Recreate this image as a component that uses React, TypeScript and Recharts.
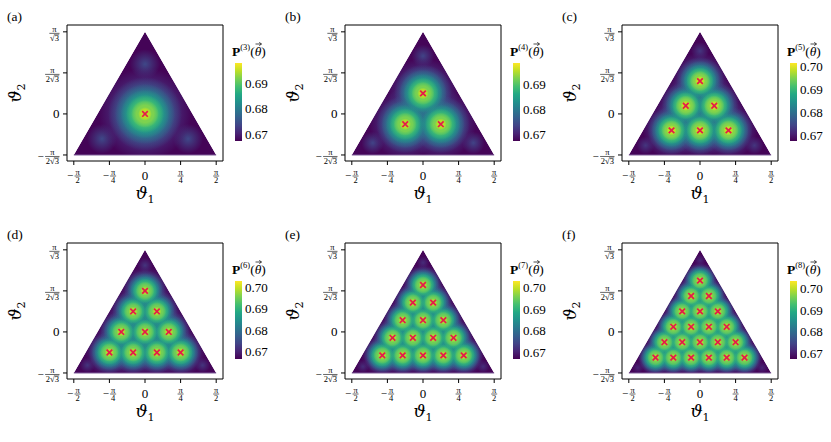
import React from "react";
import {
  ComposedChart,
  Area,
  Scatter,
  XAxis,
  YAxis,
  ReferenceArea,
  ReferenceLine,
} from "recharts";

// axis ticks (radians) and their labels
const xTicks = [-1.5708, -0.7854, 0, 0.7854, 1.5708];
const xTickLabels = ["−π/2", "−π/4", "0", "π/4", "π/2"];
const yTicks = [-0.9069, 0, 0.9069, 1.8138];
const yTickLabels = ["−π/2√3", "0", "π/2√3", "π/√3"];

// triangle of allowed angles
const triX = [-1.5708, 0, 1.5708];
const triY = [-0.9069, 1.8138, -0.9069];

// maxima (red crosses), one list per n
const peaks3 = [[0, 0]];
const peaks4 = [[-0.393, -0.227], [0.393, -0.227], [0, 0.454]];
const peaks5 = [
  [-0.628, -0.363], [0, -0.363], [0.628, -0.363],
  [-0.314, 0.181], [0.314, 0.181],
  [0, 0.726],
];
const peaks6 = [
  [-0.785, -0.454], [-0.262, -0.454], [0.262, -0.454], [0.785, -0.454],
  [-0.524, 0], [0, 0], [0.524, 0],
  [-0.262, 0.453], [0.262, 0.453],
  [0, 0.907],
];
const peaks7 = [
  [-0.898, -0.518], [-0.449, -0.518], [0, -0.518], [0.449, -0.518], [0.898, -0.518],
  [-0.673, -0.13], [-0.224, -0.13], [0.224, -0.13], [0.673, -0.13],
  [-0.449, 0.259], [0, 0.259], [0.449, 0.259],
  [-0.224, 0.648], [0.224, 0.648],
  [0, 1.037],
];
const peaks8 = [
  [-0.982, -0.567], [-0.589, -0.567], [-0.196, -0.567], [0.196, -0.567], [0.589, -0.567], [0.982, -0.567],
  [-0.785, -0.227], [-0.393, -0.227], [0, -0.227], [0.393, -0.227], [0.785, -0.227],
  [-0.589, 0.113], [-0.196, 0.113], [0.196, 0.113], [0.589, 0.113],
  [-0.393, 0.454], [0, 0.454], [0.393, 0.454],
  [-0.196, 0.794], [0.196, 0.794],
  [0, 1.134],
];

// faint secondary bumps near the corners
const bumps3 = [[0, 1.1], [-0.95, -0.55], [0.95, -0.55]];
const bumps4 = [[0, 1.28], [-1.11, -0.64], [1.11, -0.64]];
const bumps5 = [[0, 1.39], [-1.2, -0.695], [1.2, -0.695]];
const bumps6 = [[0, 1.47], [-1.27, -0.735], [1.27, -0.735]];
const bumps7 = [[0, 1.53], [-1.325, -0.765], [1.325, -0.765]];
const bumps8 = [[0, 1.58], [-1.37, -0.79], [1.37, -0.79]];

const nValues = [3, 4, 5, 6, 7, 8];
const panelLetters = ["a", "b", "c", "d", "e", "f"];
const peakValues = [0.6958, 0.6962, 0.6995, 0.6998, 0.6998, 0.7];
const baseValues = [0.6676, 0.6676, 0.6678, 0.6668, 0.6671, 0.6675];
const bumpValues = [0.6738, 0.6735, 0.6728, 0.672, 0.6715, 0.671];
const cbMin = [0.6673, 0.6672, 0.6675, 0.6664, 0.6668, 0.6672];
const cbMax = [0.6978, 0.6985, 0.7014, 0.7031, 0.7032, 0.7035];
const cbTicksShort = [0.67, 0.68, 0.69];
const cbTicksLong = [0.67, 0.68, 0.69, 0.7];

const allPeaks = [peaks3, peaks4, peaks5, peaks6, peaks7, peaks8];
const allBumps = [bumps3, bumps4, bumps5, bumps6, bumps7, bumps8];

// layout / style
const PANEL_X = [67, 345, 622];
const PANEL_Y = [25, 243];
const X_DOMAIN = [-1.721, 1.721];
const Y_DOMAIN = [-1.04, 1.965];
const PX_PER_RAD = 45.3;
const SERIF = "'Liberation Serif', 'DejaVu Serif', serif";
const LEVEL_H = [0.12, 0.28, 0.44, 0.6, 0.74, 0.86, 0.96];
const RAD_A = [0.8, 0.64, 0.52, 0.42, 0.33, 0.24, 0.12];
const RAD_F = [0.86, 0.78, 0.68, 0.58, 0.49, 0.38, 0.2];
const MARK = "#e6194b";

const VIRIDIS = [
  "#440154", "#482475", "#414487", "#355f8d", "#2a788e", "#21918c",
  "#22a884", "#44bf70", "#7ad151", "#bddf26", "#fde725",
];

function hexToRgb(h: string) {
  return [1, 3, 5].map((i) => parseInt(h.slice(i, i + 2), 16));
}

function viridis(t: number) {
  const c = Math.max(0, Math.min(1, t)) * 10;
  const i = Math.min(9, Math.floor(c));
  const f = c - i;
  const a = hexToRgb(VIRIDIS[i]);
  const b = hexToRgb(VIRIDIS[i + 1]);
  const m = a.map((v, k) => Math.round(v + (b[k] - v) * f));
  return `rgb(${m[0]},${m[1]},${m[2]})`;
}

// triangle + white masks outside it (glows are cut at the edges)
const rowXs = [X_DOMAIN[0], ...triX, X_DOMAIN[1]];
const rowEdge = [Y_DOMAIN[0], ...triY, Y_DOMAIN[0]];
const shapeRows = rowXs.map((x, i) => ({
  x,
  tri: i > 0 && i < rowXs.length - 1 ? triY[i - 1] : null,
  up: [rowEdge[i], Y_DOMAIN[1]],
  down: [Y_DOMAIN[0], triY[0]],
}));

function Frac({ x, y, label, anchor }: any) {
  const fs = 8.5;
  if (!label.includes("/")) {
    return (
      <text x={x} y={y + 4.3} textAnchor={anchor} fontFamily={SERIF} fontSize={13} fill="#000">
        {label}
      </text>
    );
  }
  const neg = label.startsWith("−");
  const body = neg ? label.slice(1) : label;
  const [num, den] = body.split("/");
  const hasRoot = den.includes("√");
  const [pre, rad] = hasRoot ? den.split("√") : [den, ""];
  const denW = pre.length * 4.25 + (hasRoot ? 4.7 + rad.length * 4.25 : 0);
  const barW = Math.max(4.8, denW) + 1.2;
  const minusW = neg ? 7.5 : 0;
  const total = minusW + barW;
  const left = anchor === "end" ? x - total : x - total / 2;
  const fl = left + minusW;
  const cx = fl + barW / 2;
  const denLeft = cx - denW / 2;
  const radLeft = denLeft + pre.length * 4.25 + 4.7;
  return (
    <g fontFamily={SERIF} fill="#000">
      {neg && (
        <text x={left} y={y + 3.2} fontSize={11}>
          −
        </text>
      )}
      <text x={cx} y={y - 1.4} fontSize={fs} textAnchor="middle">
        {num}
      </text>
      <line x1={fl} x2={fl + barW} y1={y} y2={y} stroke="#000" strokeWidth={0.6} />
      <text x={denLeft} y={y + 7.4} fontSize={fs}>
        {pre + (hasRoot ? "√" : "")}
      </text>
      {hasRoot && (
        <>
          <text x={radLeft} y={y + 7.4} fontSize={fs}>
            {rad}
          </text>
          <line
            x1={radLeft - 0.3}
            x2={radLeft + rad.length * 4.25 + 0.3}
            y1={y + 1.4}
            y2={y + 1.4}
            stroke="#000"
            strokeWidth={0.5}
          />
        </>
      )}
    </g>
  );
}

function XTick(props: any) {
  const { x, y, payload } = props;
  const label = xTickLabels[xTicks.indexOf(payload.value)] ?? "";
  return <Frac x={x} y={y + 9} label={label} anchor="middle" />;
}

function YTick(props: any) {
  const { x, y, payload } = props;
  const label = yTickLabels[yTicks.indexOf(payload.value)] ?? "";
  return <Frac x={x - 1.5} y={label === "0" ? y : y + 1.5} label={label} anchor="end" />;
}

const axisLabelStyle: React.CSSProperties = {
  position: "absolute",
  fontFamily: "'DejaVu Serif', serif",
  fontSize: 17,
  fontStyle: "italic",
  whiteSpace: "nowrap",
  lineHeight: "16px",
};

function Panel({ idx }: { idx: number }) {
  const n = nValues[idx];
  const fx = PANEL_X[idx % 3];
  const fy = PANEL_Y[Math.floor(idx / 3)];
  const lo = cbMin[idx];
  const hi = cbMax[idx];
  const norm = (v: number) => (v - lo) / (hi - lo);
  const tPeak = norm(peakValues[idx]);
  const tBase = norm(baseValues[idx]);
  const spacing = (Math.PI / n) * PX_PER_RAD;
  const w = (n - 3) / 5;
  const peakRows = allPeaks[idx].map(([x, y]) => ({ x, y }));
  const bumpRows = allBumps[idx].map(([x, y]) => ({ x, y }));
  const bumpR = Math.max(6, Math.min(15, 0.32 * spacing));
  const ticks = n <= 4 ? cbTicksShort : cbTicksLong;

  return (
    <>
      <div
        style={{ position: "absolute", left: fx - 60, top: fy - 17, fontFamily: SERIF, fontSize: 13.5, lineHeight: "17px" }}
      >
        ({panelLetters[idx]})
      </div>
      <div
        style={{
          ...axisLabelStyle,
          left: fx - 49,
          top: fy + 68,
          transform: "translate(-50%, -50%) rotate(-90deg)",
        }}
      >
        ϑ<span style={{ fontSize: 11, fontStyle: "normal", verticalAlign: -4 }}>2</span>
      </div>
      <div
        style={{
          ...axisLabelStyle,
          left: fx + 78,
          top: fy + 171,
          transform: "translate(-50%, -50%)",
        }}
      >
        ϑ<span style={{ fontSize: 11, fontStyle: "normal", verticalAlign: -4 }}>1</span>
      </div>
      <div style={{ position: "absolute", left: fx - 60, top: fy - 10 }}>
        <ComposedChart width={226} height={176} data={shapeRows} margin={{ top: 10, right: 10, bottom: 0, left: 0 }}>
          <defs>
            {LEVEL_H.map((h, L) => {
              const c = viridis(tBase + h * (tPeak - tBase));
              return (
                <radialGradient key={L} id={`lv-${idx}-${L}`}>
                  <stop offset="0" stopColor={c} stopOpacity={1} />
                  <stop offset="0.62" stopColor={c} stopOpacity={1} />
                  <stop offset="1" stopColor={c} stopOpacity={0} />
                </radialGradient>
              );
            })}
            <radialGradient id={`bump-${idx}`}>
              <stop offset="0" stopColor={viridis(norm(bumpValues[idx]))} stopOpacity={1} />
              <stop offset="1" stopColor={viridis(norm(bumpValues[idx]))} stopOpacity={0} />
            </radialGradient>
          </defs>
          <XAxis
            type="number"
            dataKey="x"
            domain={X_DOMAIN}
            allowDataOverflow
            ticks={xTicks}
            interval={0}
            tickSize={4}
            axisLine={false}
            tickLine={{ stroke: "#000" }}
            tick={<XTick />}
            height={30}
          />
          <YAxis
            type="number"
            dataKey="y"
            domain={Y_DOMAIN}
            allowDataOverflow
            ticks={yTicks}
            interval={0}
            tickSize={4}
            axisLine={false}
            tickLine={{ stroke: "#000" }}
            tick={<YTick />}
            width={60}
          />
          <Area
            type="linear"
            dataKey="tri"
            baseValue={triY[0]}
            fill={viridis(tBase)}
            fillOpacity={1}
            stroke="none"
            connectNulls
            isAnimationActive={false}
          />
          <Scatter
            data={bumpRows}
            isAnimationActive={false}
            shape={(p: any) => <circle cx={p.cx} cy={p.cy} r={bumpR} fill={`url(#bump-${idx})`} />}
          />
          {LEVEL_H.map((h, L) => {
            const r = ((RAD_A[L] * (1 - w) + RAD_F[L] * w) * spacing) / 0.82;
            return (
              <Scatter
                key={L}
                data={peakRows}
                isAnimationActive={false}
                shape={(p: any) => <circle cx={p.cx} cy={p.cy} r={r} fill={`url(#lv-${idx}-${L})`} />}
              />
            );
          })}
          <Area
            type="linear"
            dataKey="up"
            fill="#fff"
            fillOpacity={1}
            stroke="none"
            isAnimationActive={false}
            zIndex={650}
          />
          <Area
            type="linear"
            dataKey="down"
            fill="#fff"
            fillOpacity={1}
            stroke="none"
            isAnimationActive={false}
            zIndex={650}
          />
          <ReferenceLine
            segment={[
              { x: triX[0], y: triY[0] },
              { x: triX[2], y: triY[2] },
            ]}
            stroke="#7f5f9a"
            strokeWidth={1.2}
            zIndex={660}
          />
          <Scatter
            data={peakRows}
            isAnimationActive={false}
            zIndex={700}
            shape={(p: any) => (
              <g stroke={MARK} strokeWidth={1.7}>
                <line x1={p.cx - 2.8} y1={p.cy - 2.8} x2={p.cx + 2.8} y2={p.cy + 2.8} />
                <line x1={p.cx - 2.8} y1={p.cy + 2.8} x2={p.cx + 2.8} y2={p.cy - 2.8} />
              </g>
            )}
          />
          <ReferenceArea
            x1={X_DOMAIN[0]}
            x2={X_DOMAIN[1]}
            y1={Y_DOMAIN[0]}
            y2={Y_DOMAIN[1]}
            fill="none"
            stroke="#000"
            strokeWidth={1}
            zIndex={800}
          />
        </ComposedChart>
      </div>
      <div
        style={{
          position: "absolute",
          left: fx + 165,
          top: fy + 13,
          fontFamily: SERIF,
          fontSize: 13.5,
          lineHeight: "19px",
          whiteSpace: "nowrap",
        }}
      >
        <b>P</b>
        <sup style={{ fontSize: 8.5 }}>({n})</sup>(
        <span style={{ position: "relative", fontStyle: "italic" }}>
          θ
          <svg
            width={7}
            height={4}
            style={{ position: "absolute", left: 0.8, top: -1.5 }}
          >
            <line x1={0.5} y1={2} x2={6.2} y2={2} stroke="#000" strokeWidth={0.7} />
            <path d="M4.2 0.4 L6.6 2 L4.2 3.6" fill="none" stroke="#000" strokeWidth={0.7} />
          </svg>
        </span>
        )
      </div>
      <div style={{ position: "absolute", left: fx + 167.5, top: fy + 32 }}>
        <ComposedChart width={40} height={90} data={[{ x: 0 }, { x: 1 }]} margin={{ top: 6, right: 0, bottom: 6, left: 0 }}>
          <defs>
            <linearGradient id={`cb-${idx}`} x1="0" y1="1" x2="0" y2="0">
              {VIRIDIS.map((c, i) => (
                <stop key={i} offset={i / 10} stopColor={c} />
              ))}
            </linearGradient>
          </defs>
          <XAxis type="number" dataKey="x" domain={[0, 1]} hide />
          <YAxis
            orientation="right"
            type="number"
            domain={[lo, hi]}
            allowDataOverflow
            ticks={ticks}
            interval={0}
            axisLine={false}
            tickLine={false}
            tickSize={0}
            tickMargin={3}
            width={33}
            tickFormatter={(v: number) => v.toFixed(2)}
            tick={{ fontFamily: SERIF, fontSize: 13, fill: "#000" }}
          />
          <ReferenceArea x1={0} x2={1} y1={lo} y2={hi} fill={`url(#cb-${idx})`} fillOpacity={1} stroke="none" />
        </ComposedChart>
      </div>
    </>
  );
}

export default function App() {
  return (
    <div
      style={{
        position: "absolute",
        left: 0,
        top: 0,
        width: 831,
        height: 442,
        background: "#fff",
        overflow: "hidden",
      }}
    >
      {nValues.map((_, i) => (
        <Panel key={i} idx={i} />
      ))}
    </div>
  );
}
